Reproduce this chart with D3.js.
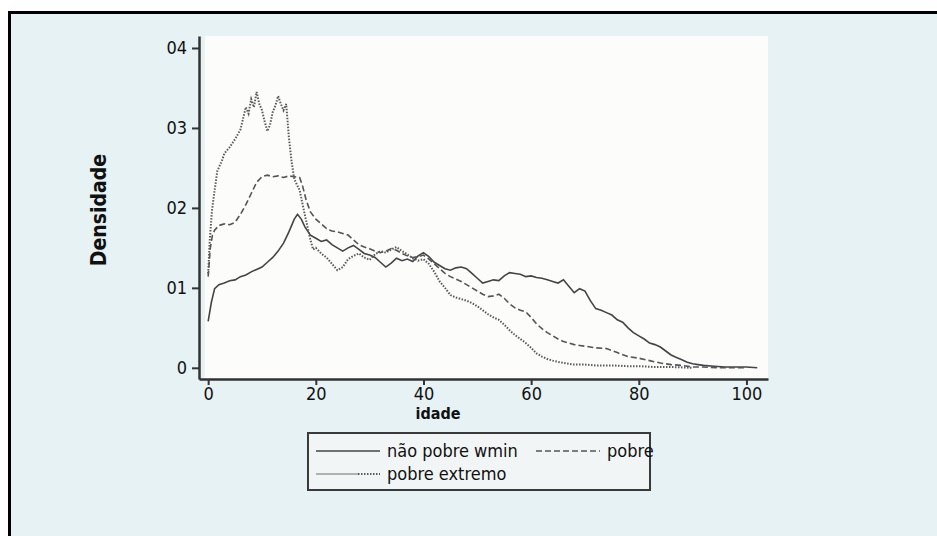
<!DOCTYPE html>
<html>
<head>
<meta charset="utf-8">
<script src="https://cdn.jsdelivr.net/npm/d3@7"></script>
<style>
  body { margin: 0; background: #fff; }
  svg { display: block; }
  text { font-family: "DejaVu Sans", sans-serif; font-stretch: condensed; fill: #111; }
</style>
</head>
<body>
<svg id="chart" width="937" height="536"></svg>
<script>
// y tick values and their printed labels (the decimal point is missing in the source)
const yTicks = [0, 0.01, 0.02, 0.03, 0.04];
const yTickLabels = ["0", "01", "02", "03", "04"];
const xTicks = [0, 20, 40, 60, 80, 100];

// não pobre wmin (solid)
const agesSolid = [0, 0.6, 1.2, 2, 3, 4, 5, 6, 7, 8, 9, 10, 11, 12, 13, 14, 15, 16, 16.6, 17.3, 18, 19, 20, 21, 22, 23, 24, 25, 26, 27, 28, 29, 30, 31, 32, 33, 34, 35, 36, 37, 38, 39, 40, 41, 42, 43, 44, 45, 46, 47, 48, 49, 50, 51, 52, 53, 54, 55, 56, 57, 58, 59, 60, 61, 62, 63, 64, 65, 66, 67, 68, 69, 70, 71, 72, 73, 74, 75, 76, 77, 78, 79, 80, 81, 82, 83, 84, 85, 86, 87, 88, 89, 90, 91, 92, 94, 96, 98, 100, 102];
const valsSolid = [0.0058, 0.0082, 0.0099, 0.0104, 0.0106, 0.0109, 0.0110, 0.0114, 0.0116, 0.0120, 0.0123, 0.0126, 0.0132, 0.0138, 0.0146, 0.0156, 0.0170, 0.0186, 0.0192, 0.0186, 0.0176, 0.0166, 0.0162, 0.0158, 0.0160, 0.0154, 0.0150, 0.0146, 0.0150, 0.0153, 0.0148, 0.0143, 0.0141, 0.0138, 0.0132, 0.0126, 0.0131, 0.0137, 0.0134, 0.0136, 0.0133, 0.0140, 0.0144, 0.0139, 0.0132, 0.0128, 0.0124, 0.0122, 0.0125, 0.0126, 0.0124, 0.0118, 0.0112, 0.0106, 0.0108, 0.0110, 0.0109, 0.0115, 0.0119, 0.0118, 0.0117, 0.0114, 0.0115, 0.0113, 0.0112, 0.0110, 0.0108, 0.0106, 0.0110, 0.0102, 0.0094, 0.0099, 0.0096, 0.0084, 0.0074, 0.0072, 0.0069, 0.0066, 0.0060, 0.0057, 0.0050, 0.0044, 0.0040, 0.0036, 0.0031, 0.0029, 0.0026, 0.0021, 0.0016, 0.0013, 0.0010, 0.0007, 0.0005, 0.0004, 0.0003, 0.0002, 0.0001, 0.0001, 0.0001, 0.0000];

// pobre (dashed)
const agesDash = [0, 0.4, 0.8, 1.2, 2, 3, 4, 5, 6, 7, 8, 9, 10, 11, 12, 13, 14, 15, 16, 17, 17.6, 18.2, 19, 20, 21, 22, 23, 24, 25, 26, 27, 28, 29, 30, 31, 32, 33, 34, 35, 36, 37, 38, 39, 40, 41, 42, 43, 44, 45, 46, 47, 48, 49, 50, 51, 52, 53, 54, 55, 56, 57, 58, 59, 60, 61, 62, 63, 64, 65, 66, 67, 68, 69, 70, 72, 74, 76, 78, 80, 82, 84, 86, 88, 90, 92, 95, 98, 100];
const valsDash = [0.0114, 0.0150, 0.0166, 0.0172, 0.0178, 0.0180, 0.0179, 0.0182, 0.0192, 0.0204, 0.0218, 0.0232, 0.0239, 0.0241, 0.0239, 0.0240, 0.0238, 0.0240, 0.0239, 0.0238, 0.0226, 0.0210, 0.0195, 0.0186, 0.0180, 0.0174, 0.0171, 0.0170, 0.0168, 0.0166, 0.0160, 0.0154, 0.0151, 0.0149, 0.0146, 0.0144, 0.0146, 0.0149, 0.0147, 0.0143, 0.0140, 0.0138, 0.0139, 0.0141, 0.0136, 0.0130, 0.0124, 0.0118, 0.0114, 0.0111, 0.0108, 0.0104, 0.0100, 0.0096, 0.0092, 0.0089, 0.0090, 0.0092, 0.0087, 0.0080, 0.0075, 0.0072, 0.0070, 0.0063, 0.0055, 0.0049, 0.0044, 0.0040, 0.0036, 0.0033, 0.0031, 0.0029, 0.0028, 0.0027, 0.0025, 0.0024, 0.0019, 0.0014, 0.0012, 0.0009, 0.0006, 0.0004, 0.0003, 0.0001, 0.0001, 0.0000, 0.0000, 0.0000];

// pobre extremo (dotted)
const agesDot = [0, 0.3, 0.7, 1.2, 1.7, 2.5, 3, 4, 5, 6, 6.5, 7, 7.5, 8, 8.5, 9, 9.5, 10, 10.5, 11, 11.5, 12, 12.5, 13, 13.5, 14, 14.5, 15, 15.5, 16, 17, 18, 19, 19.5, 20, 21, 22, 23, 24, 25, 26, 27, 28, 29, 30, 31, 32, 33, 34, 35, 36, 37, 38, 39, 40, 41, 42, 43, 44, 45, 46, 47, 48, 49, 50, 51, 52, 53, 54, 55, 56, 57, 58, 59, 60, 61, 62, 63, 64, 66, 68, 70, 72, 75, 78, 80, 83, 86, 90];
const valsDot = [0.0118, 0.0160, 0.0196, 0.0222, 0.0246, 0.0258, 0.0268, 0.0276, 0.0286, 0.0298, 0.0312, 0.0326, 0.0318, 0.0336, 0.0326, 0.0345, 0.0330, 0.0322, 0.0308, 0.0296, 0.0304, 0.0320, 0.0328, 0.0340, 0.0330, 0.0322, 0.0330, 0.0288, 0.0258, 0.0236, 0.0222, 0.0190, 0.0160, 0.0148, 0.0150, 0.0143, 0.0138, 0.0130, 0.0122, 0.0126, 0.0136, 0.0140, 0.0143, 0.0138, 0.0135, 0.0142, 0.0146, 0.0144, 0.0148, 0.0151, 0.0146, 0.0142, 0.0137, 0.0134, 0.0136, 0.0130, 0.0120, 0.0108, 0.0100, 0.0091, 0.0088, 0.0086, 0.0084, 0.0081, 0.0077, 0.0072, 0.0067, 0.0063, 0.0060, 0.0054, 0.0047, 0.0041, 0.0036, 0.0031, 0.0025, 0.0018, 0.0014, 0.0011, 0.0009, 0.0006, 0.0004, 0.0004, 0.0003, 0.0003, 0.0002, 0.0002, 0.0001, 0.0001, 0.0000];

const seriesNames = ["não pobre wmin", "pobre", "pobre extremo"];

const svg = d3.select("#chart");

// outer panel
svg.append("rect").attr("x", 0).attr("y", 0).attr("width", 937).attr("height", 536).attr("fill", "#ffffff");
svg.append("rect")
  .attr("x", 9.5).attr("y", 12.5).attr("width", 940).attr("height", 540)
  .attr("fill", "#e7f2f4").attr("stroke", "#000").attr("stroke-width", 3);

const x = d3.scaleLinear().domain([-1.7, 104]).range([199, 768]);
const y = d3.scaleLinear().domain([-0.0014, 0.0415]).range([379, 36]);

// plot background
svg.append("rect")
  .attr("x", x(-0.6)).attr("y", y(0.0415))
  .attr("width", x(104) - x(-0.6)).attr("height", y(-0.0014) - y(0.0415))
  .attr("fill", "#fcfcfb");

const axisColor = "#333";

const xAxis = svg.append("g")
  .attr("transform", `translate(0,${y(-0.0014)})`)
  .call(d3.axisBottom(x).tickValues(xTicks).tickSize(6).tickSizeOuter(0).tickPadding(2));
const yAxis = svg.append("g")
  .attr("transform", `translate(${x(-1.7)},0)`)
  .call(d3.axisLeft(y).tickValues(yTicks).tickSize(7).tickSizeOuter(0).tickPadding(5)
    .tickFormat((d, i) => yTickLabels[i]));

[xAxis, yAxis].forEach(g => {
  g.select(".domain").attr("stroke", axisColor).attr("stroke-width", 2.5);
  g.selectAll(".tick line").attr("stroke", axisColor).attr("stroke-width", 2);
  g.selectAll(".tick text").style("font-size", "18px").style("font-family", null).attr("fill", "#111");
});

// axis titles
svg.append("text")
  .attr("transform", "translate(106,210) rotate(-90)")
  .attr("text-anchor", "middle")
  .style("font-size", "21px").style("font-weight", "bold")
  .text("Densidade");
svg.append("text")
  .attr("x", 438).attr("y", 419)
  .attr("text-anchor", "middle")
  .style("font-size", "16px").style("font-weight", "bold")
  .text("idade");

const line = d3.line().x(d => x(d[0])).y(d => y(d[1]));

const series = [
  { name: seriesNames[0], ages: agesSolid, vals: valsSolid, color: "#444", dash: null, width: 1.6 },
  { name: seriesNames[1], ages: agesDash, vals: valsDash, color: "#555", dash: "6,3", width: 1.6 },
  { name: seriesNames[2], ages: agesDot, vals: valsDot, color: "#5a5a5a", dash: "1.5,1.5", width: 2 }
];

series.forEach(s => {
  svg.append("path")
    .datum(s.ages.map((a, i) => [a, s.vals[i]]))
    .attr("d", line)
    .attr("fill", "none")
    .attr("stroke", s.color)
    .attr("stroke-width", s.width)
    .attr("stroke-dasharray", s.dash);
});

// legend
const lg = svg.append("g");
lg.append("rect")
  .attr("x", 308).attr("y", 433).attr("width", 342).attr("height", 57)
  .attr("fill", "#f2f5f5").attr("stroke", "#3a3a3a").attr("stroke-width", 2);

const legendItems = [
  { s: series[0], lx: 316, ly: 451 },
  { s: series[1], lx: 536, ly: 451 },
  { s: series[2], lx: 316, ly: 474 }
];
legendItems.forEach(it => {
  if (it.s.dash === "1.5,1.5") {
    lg.append("line").attr("x1", it.lx).attr("x2", it.lx + 42).attr("y1", it.ly).attr("y2", it.ly)
      .attr("stroke", "#9a9a9a").attr("stroke-width", 1.3);
    lg.append("line").attr("x1", it.lx + 42).attr("x2", it.lx + 64).attr("y1", it.ly).attr("y2", it.ly)
      .attr("stroke", it.s.color).attr("stroke-width", 1.8).attr("stroke-dasharray", it.s.dash);
  } else {
    lg.append("line").attr("x1", it.lx).attr("x2", it.lx + 64).attr("y1", it.ly).attr("y2", it.ly)
      .attr("stroke", it.s.color).attr("stroke-width", it.s.width).attr("stroke-dasharray", it.s.dash);
  }
  lg.append("text").attr("x", it.lx + 71).attr("y", it.ly + 6)
    .style("font-size", "18px").text(it.s.name);
});
</script>
</body>
</html>
